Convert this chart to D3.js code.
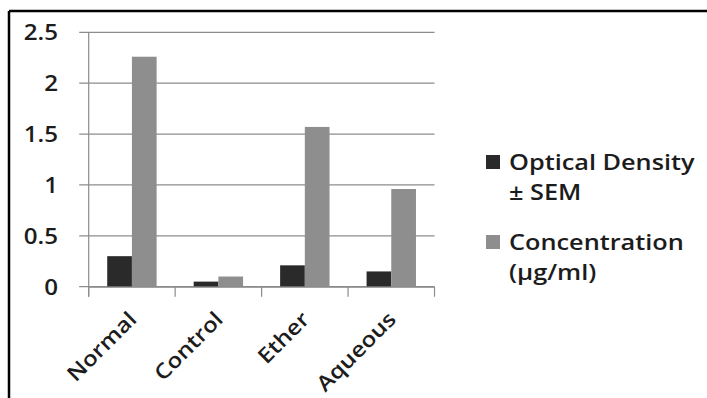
<!DOCTYPE html>
<html>
<head>
<meta charset="utf-8">
<script src="https://cdn.jsdelivr.net/npm/d3@7"></script>
<style>
  html, body { margin: 0; padding: 0; background: #fff; }
  svg { display: block; }
  text { font-family: "Open Sans", Lato, sans-serif; font-weight: 600; fill: #1c1c1c; }
</style>
</head>
<body>
<svg id="chart" width="707" height="398"></svg>
<script>
// Groups, series and their values
const categories = ["Normal", "Control", "Ether", "Aqueous"];
const seriesNames = ["Optical Density ± SEM", "Concentration (µg/ml)"];
const opticalDensity = [0.30, 0.05, 0.21, 0.15];
const concentration = [2.26, 0.10, 1.57, 0.96];
const yTicks = [0, 0.5, 1, 1.5, 2, 2.5];
const yTickLabels = ["0", "0.5", "1", "1.5", "2", "2.5"];
const legendLines = [["Optical Density", "± SEM"], ["Concentration", "(µg/ml)"]];
const colors = ["#2a2a2a", "#8e8e8e"];

const FONT = 21;        // axis label size
const LEGEND_FONT = 22; // legend label size
const WIDEN = 1.15;     // horizontal stretch of the lettering

const svg = d3.select("#chart");

// Frame lines along the top and left edge
svg.append("line").attr("x1", 9).attr("x2", 707).attr("y1", 11).attr("y2", 11)
  .attr("stroke", "#000").attr("stroke-width", 2.5);
svg.append("line").attr("x1", 9).attr("x2", 9).attr("y1", 11).attr("y2", 398)
  .attr("stroke", "#000").attr("stroke-width", 2.5);

const plot = { left: 88.7, right: 434.5, top: 32.3, bottom: 286.7 };

const x0 = d3.scaleBand().domain(categories).range([plot.left, plot.right]).padding(0);
const bw = x0.bandwidth();
const barW = bw / 3.5;
const x1 = d3.scaleBand().domain(seriesNames).range([barW * 0.75, bw - barW * 0.75]).padding(0);
const y = d3.scaleLinear().domain([0, 2.5]).range([plot.bottom, plot.top]);

// Horizontal gridlines with short ticks to the left of the axis
svg.append("g").selectAll("line").data(yTicks).join("line")
  .attr("x1", plot.left - 9.5).attr("x2", plot.right)
  .attr("y1", d => y(d)).attr("y2", d => y(d))
  .attr("stroke", "#8c8c8c").attr("stroke-width", 1.2);

// Y axis labels
const yAxis = d3.axisLeft(y).tickValues(yTicks)
  .tickFormat((d, i) => yTickLabels[i]).tickSize(0).tickPadding(0);
const gy = svg.append("g").call(yAxis);
gy.select(".domain").remove();
gy.selectAll(".tick text")
  .attr("x", 0).attr("dy", null).attr("y", 7.5)
  .attr("font-size", FONT).attr("font-family", null).attr("fill", null)
  .attr("text-anchor", "end")
  .attr("transform", `translate(58,0) scale(${WIDEN},1)`);

// Bars
const data = categories.map((c, i) => ({ cat: c, vals: [opticalDensity[i], concentration[i]] }));
const groups = svg.append("g").selectAll("g").data(data).join("g")
  .attr("transform", d => `translate(${x0(d.cat)},0)`);
groups.selectAll("rect").data(d => d.vals.map((v, j) => ({ v, s: seriesNames[j], j })))
  .join("rect")
  .attr("x", d => x1(d.s)).attr("width", x1.bandwidth())
  .attr("y", d => y(d.v)).attr("height", d => y(0) - y(d.v))
  .attr("fill", d => colors[d.j]);

// Y axis line
svg.append("line").attr("x1", plot.left).attr("x2", plot.left)
  .attr("y1", plot.top).attr("y2", plot.bottom + 10)
  .attr("stroke", "#8c8c8c").attr("stroke-width", 1.2);

// X axis with category separators
const xAxis = d3.axisBottom(x0).tickSize(0).tickFormat("");
const gx = svg.append("g").attr("transform", `translate(0,${plot.bottom})`).call(xAxis);
gx.select(".domain").attr("stroke", "#8c8c8c").attr("stroke-width", 1.2);
const boundaries = categories.map(c => x0(c)).concat([x0(categories[categories.length - 1]) + bw]);
gx.selectAll(".sep").data(boundaries).join("line").attr("class", "sep")
  .attr("x1", d => d).attr("x2", d => d).attr("y1", 0).attr("y2", 10)
  .attr("stroke", "#8c8c8c").attr("stroke-width", 1.2);

// Rotated category labels
svg.append("g").selectAll("text").data(categories).join("text")
  .attr("transform", d => `translate(${x0(d) + bw / 2 + 6},${plot.bottom + 34}) rotate(-45) scale(${WIDEN},1)`)
  .attr("text-anchor", "end")
  .attr("font-size", FONT)
  .text(d => d);

// Legend
const legend = svg.append("g").attr("transform", "translate(486,0)");
const legendTops = [155, 235];
legendLines.forEach((lines, i) => {
  legend.append("rect").attr("x", 0).attr("y", legendTops[i]).attr("width", 14).attr("height", 14)
    .attr("fill", colors[i]);
  lines.forEach((t, k) => {
    legend.append("text")
      .attr("transform", `translate(23,${legendTops[i] + 15 + k * 30}) scale(${WIDEN},1)`)
      .attr("font-size", LEGEND_FONT).text(t);
  });
});
</script>
</body>
</html>
